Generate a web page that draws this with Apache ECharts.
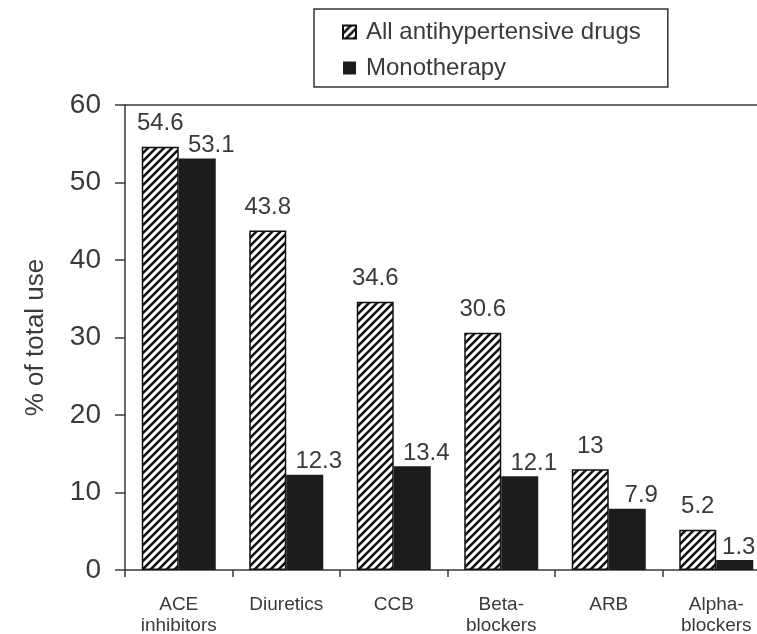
<!DOCTYPE html>
<html>
<head>
<meta charset="utf-8">
<script src="https://cdn.jsdelivr.net/npm/echarts@6/dist/echarts.min.js"></script>
<style>html,body{margin:0;padding:0;background:#fff}#c{width:757px;height:634px}</style>
</head>
<body>
<div id="c"></div>
<script>
const categories = ['ACE\ninhibitors', 'Diuretics', 'CCB', 'Beta-\nblockers', 'ARB', 'Alpha-\nblockers'];
const allDrugs = [54.6, 43.8, 34.6, 30.6, 13, 5.2];
const monotherapy = [53.1, 12.3, 13.4, 12.1, 7.9, 1.3];
const yTicks = [0, 10, 20, 30, 40, 50, 60];
const seriesNames = ['All antihypertensive drugs', 'Monotherapy'];

function hatch() {
  const s = 8;
  const cv = document.createElement('canvas');
  cv.width = s; cv.height = s;
  const ctx = cv.getContext('2d');
  ctx.fillStyle = '#fff';
  ctx.fillRect(0, 0, s, s);
  ctx.strokeStyle = '#111';
  ctx.lineWidth = 2.6;
  ctx.beginPath();
  ctx.moveTo(-2, s + 2); ctx.lineTo(s + 2, -2);
  ctx.moveTo(-2, 2); ctx.lineTo(2, -2);
  ctx.moveTo(s - 2, s + 2); ctx.lineTo(s + 2, s - 2);
  ctx.stroke();
  return cv;
}

const textColor = '#3a3a3a';
const axisColor = '#3a3a3a';
const font = '"Liberation Sans", Arial, sans-serif';

// last label sits near the canvas edge: keep it from being clipped
const monoData = monotherapy.map((v, i) =>
  i === monotherapy.length - 1 ? {value: v, label: {offset: [4, 0]}} : v);

const chart = echarts.init(document.getElementById('c'), null, {renderer: 'canvas'});
chart.setOption({
  animation: false,
  textStyle: {fontFamily: font, color: textColor},
  legend: {
    orient: 'vertical',
    left: 314, top: 9,
    borderColor: '#333', borderWidth: 1.5,
    padding: [11, 27, 7, 28],
    itemGap: 12,
    itemWidth: 13, itemHeight: 13,
    icon: 'rect',
    textStyle: {fontSize: 24, color: textColor, fontFamily: font, padding: [0, 0, 0, 5]},
    data: seriesNames
  },
  grid: {left: 125, top: 105, width: 645, bottom: 64, containLabel: false, outerBoundsMode: 'none'},
  xAxis: [{
    type: 'category',
    data: categories,
    axisLine: {lineStyle: {color: axisColor, width: 1.5}},
    axisTick: {show: true, length: 7, lineStyle: {color: axisColor, width: 1.5}, alignWithLabel: false},
    axisLabel: {fontSize: 19, lineHeight: 21, color: textColor, margin: 24, interval: 0, fontFamily: font}
  }, {
    type: 'category',
    data: categories,
    position: 'top',
    axisLine: {show: true, lineStyle: {color: axisColor, width: 1.5}},
    axisTick: {show: false},
    axisLabel: {show: false}
  }],
  yAxis: {
    type: 'value',
    min: yTicks[0], max: yTicks[yTicks.length - 1], interval: 10,
    name: '% of total use',
    nameLocation: 'middle',
    nameGap: 76,
    nameTextStyle: {fontSize: 26, color: textColor, fontFamily: font},
    axisLine: {show: true, lineStyle: {color: axisColor, width: 1.5}},
    axisTick: {show: true, length: 10, lineStyle: {color: axisColor, width: 1.5}},
    axisLabel: {fontSize: 28, color: textColor, margin: 24, fontFamily: font},
    splitLine: {show: false}
  },
  series: [{
    name: seriesNames[0],
    type: 'bar',
    data: allDrugs,
    barWidth: 37,
    barGap: '0%',
    itemStyle: {color: {image: hatch(), repeat: 'repeat'}, borderColor: '#111', borderWidth: 1.5},
    label: {show: true, position: 'top', distance: 11, fontSize: 24, color: textColor, fontFamily: font}
  }, {
    name: seriesNames[1],
    type: 'bar',
    data: monoData,
    barWidth: 37,
    barGap: '0%',
    itemStyle: {color: '#1c1c1c'},
    label: {show: true, position: 'top', distance: 1, offset: [14, 0], fontSize: 24, color: textColor, fontFamily: font}
  }]
});
</script>
</body>
</html>
